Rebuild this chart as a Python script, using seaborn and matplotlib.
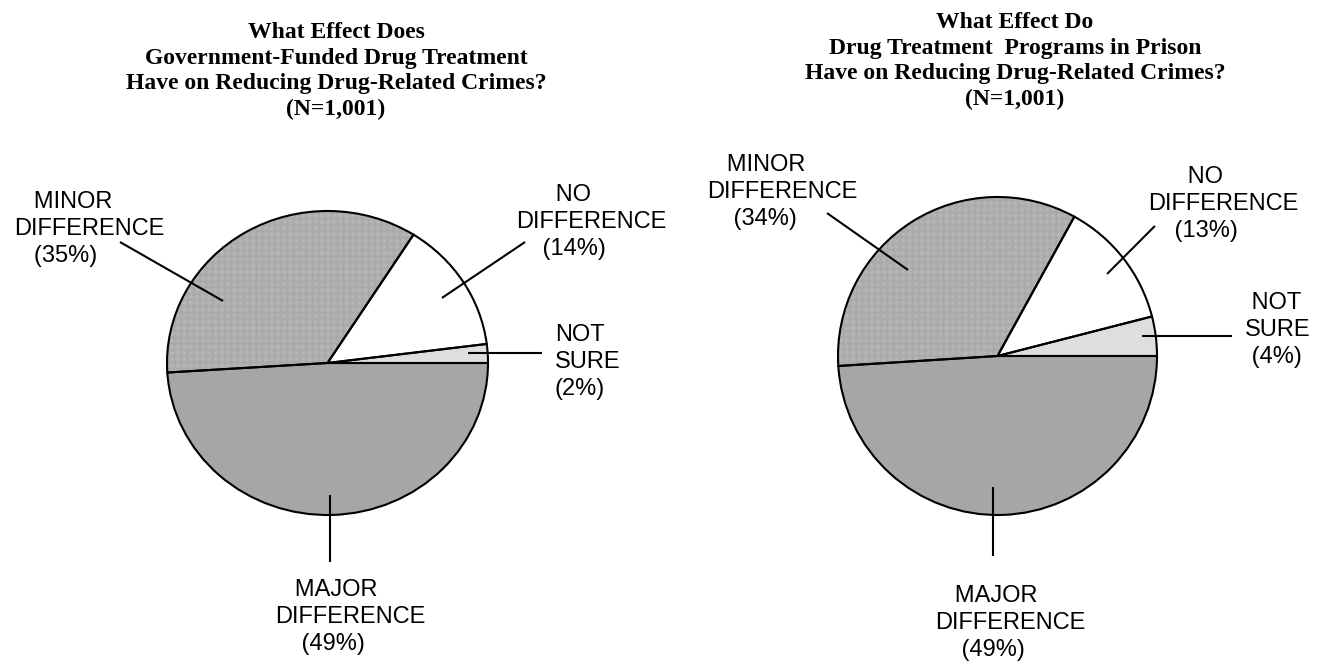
import matplotlib
matplotlib.use("Agg")
import matplotlib.pyplot as plt
import seaborn as sns

sns.set_theme(style="white")
plt.rcParams["font.family"] = ["Liberation Sans", "DejaVu Sans"]
plt.rcParams["hatch.linewidth"] = 0.6

# Survey answers, in the order the wedges are laid out (counter-clockwise from 3 o'clock)
categories = ["NOT SURE", "NO DIFFERENCE", "MINOR DIFFERENCE", "MAJOR DIFFERENCE"]
funded_pct = [2, 14, 35, 49]
prison_pct = [4, 13, 34, 49]

titles = [
    "What Effect Does\nGovernment-Funded Drug Treatment\nHave on Reducing Drug-Related Crimes?\n(N=1,001)",
    "What Effect Do\nDrug Treatment  Programs in Prison\nHave on Reducing Drug-Related Crimes?\n(N=1,001)",
]

fill_colors = ["#dedede", "#ffffff", "#d0d0d0", "#a6a6a6"]

W, H = 1320, 661
fig = plt.figure(figsize=(W / 100, H / 100), dpi=100)
fig.patch.set_facecolor("white")


def px_axes(cx, cy, rx, ry):
    """Axes whose (-1..1, -1..1) box covers the ellipse centred at pixel (cx, cy)."""
    return fig.add_axes([(cx - rx) / W, (H - cy - ry) / H, 2 * rx / W, 2 * ry / H])


# per-pie layout: pixel geometry, label anchors (left edge, baseline of the last line)
# with leading-space indents for lines 1 and 3, leader lines (unit-radius coords)
layouts = [
    dict(
        geom=(327.5, 363, 160.5, 152),
        title_xy=(336, 115),
        labels=[(1.417, -0.211, 0, 0), (1.174, 0.711, 6, 4),
                (-1.953, 0.664, 3, 3), (-0.327, -1.888, 3, 4)],
        leaders=[((0.875, 0.066), (1.336, 0.066)),
                 ((0.713, 0.428), (1.231, 0.796)),
                 ((-0.651, 0.408), (-1.293, 0.796)),
                 ((0.016, -0.868), (0.016, -1.309))],
    ),
    dict(
        geom=(997.5, 356, 159.5, 159),
        title_xy=(1015, 105),
        labels=[(1.552, -0.044, 1, 1), (0.944, 0.748, 6, 4),
                (-1.821, 0.824, 3, 4), (-0.392, -1.887, 3, 4)],
        leaders=[((0.906, 0.126), (1.470, 0.126)),
                 ((0.687, 0.516), (0.987, 0.818)),
                 ((-0.561, 0.541), (-1.069, 0.899)),
                 ((-0.028, -0.824), (-0.028, -1.258))],
    ),
]

for values, title, lay in zip([funded_pct, prison_pct], titles, layouts):
    ax = px_axes(*lay["geom"])

    # filled wedges (no outline) with a fine texture on the "minor" wedge
    wedges, _ = ax.pie(values, colors=fill_colors, startangle=0, counterclock=True,
                       radius=1, wedgeprops=dict(linewidth=0))
    wedges[2].set_hatch("x" * 14)
    wedges[2].set_edgecolor("#a9a9a9")
    wedges[2].set_linewidth(0)

    # black outlines on top
    ax.pie(values, startangle=0, counterclock=True, radius=1,
           wedgeprops=dict(fill=False, edgecolor="black", linewidth=1.5))

    ax.set_aspect("auto")
    ax.set_xlim(-1, 1)
    ax.set_ylim(-1, 1)
    ax.axis("off")

    for cat, pct, (lx, ly, k1, k3), (p0, p1) in zip(categories, values, lay["labels"], lay["leaders"]):
        first, second = cat.split(" ", 1)
        label = f"{' ' * k1}{first}\n{second}\n{' ' * k3}({pct}%)"
        ax.text(lx, ly, label, ha="left", va="baseline", multialignment="left",
                fontsize=17, linespacing=1.3, color="black", clip_on=False)
        ax.plot([p0[0], p1[0]], [p0[1], p1[1]], color="black", lw=1.5,
                solid_capstyle="butt", clip_on=False)

    tx, ty = lay["title_xy"]
    fig.text(tx / W, 1 - ty / H, title, ha="center", va="baseline",
             fontsize=17, fontweight="bold", family=["Liberation Serif", "DejaVu Serif"],
             linespacing=1.28, color="black")

fig.savefig("out.png", dpi=100, facecolor="white")
